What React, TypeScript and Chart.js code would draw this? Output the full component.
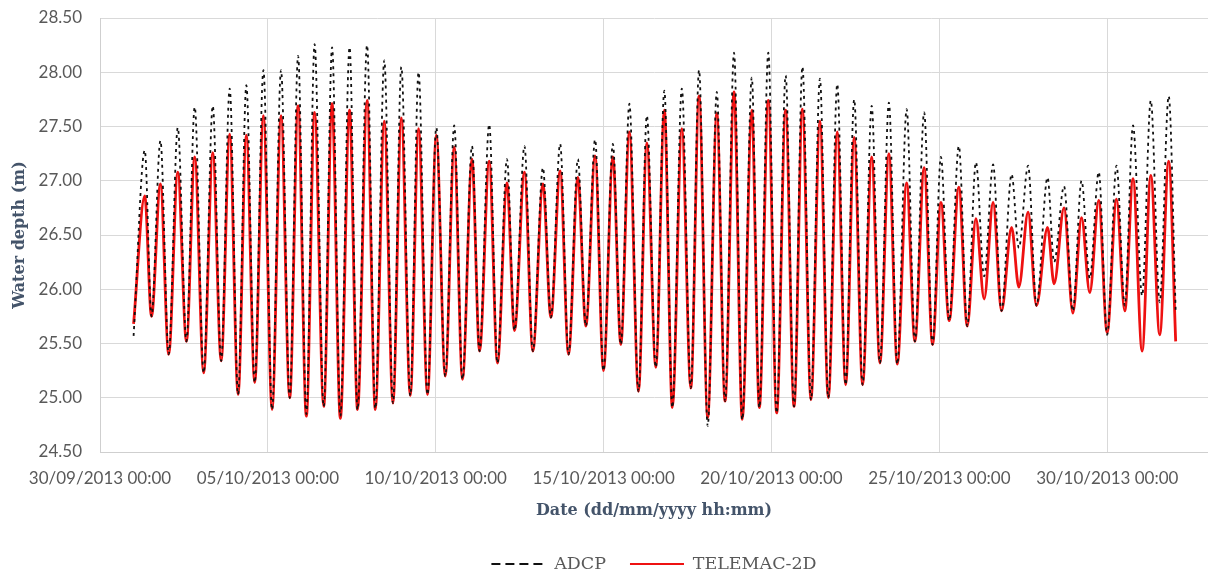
import React, { useEffect, useRef } from 'react';
import { Chart, registerables } from 'chart.js';

Chart.register(...registerables);

// Hours since 30/09/2013 00:00 for each turning point (start, high, low, high, low, ..., end)
const hours = [
  24.0, 32.0, 36.8, 43.2, 49.1, 55.6, 61.8, 67.7, 74.1, 80.6, 86.6, 92.7, 98.7, 104.6, 110.6,
  116.8, 123.0, 129.4, 135.6, 141.6, 147.5, 153.4, 159.9, 165.9, 171.8, 178.4, 184.1, 190.9, 196.8,
  203.2, 209.4, 215.4, 221.8, 227.7, 234.1, 240.4, 246.8, 253.2, 259.1, 265.9, 271.3, 278.2, 284.1,
  290.9, 296.3, 303.4, 309.4, 316.6, 322.3, 328.9, 334.9, 341.6, 347.3, 353.9, 359.9, 366.6, 372.3,
  378.4, 384.9, 390.9, 397.3, 403.4, 409.1, 415.9, 422.3, 428.2, 434.4, 440.9, 446.8, 453.2, 459.1,
  465.9, 471.3, 477.7, 483.7, 490.1, 496.1, 502.1, 508.2, 514.6, 520.6, 527.0, 533.0, 539.1, 545.1,
  551.6, 557.5, 563.9, 569.9, 576.6, 582.5, 589.1, 595.1, 601.1, 607.0, 613.9, 619.9, 626.1, 632.0,
  638.4, 644.4, 651.6, 656.8, 663.4, 669.4, 677.3, 682.0, 689.1, 695.4, 701.6, 707.5, 713.9, 719.9,
  726.6, 732.5, 738.4, 744.9, 751.1, 757.5, 763.9, 768.9,
];

const adcp = [
  25.57, 27.28, 25.75, 27.37, 25.40, 27.49, 25.52, 27.68, 25.23, 27.69, 25.34, 27.85, 25.03, 27.88, 25.14,
  28.02, 24.89, 28.02, 25.00, 28.15, 24.85, 28.26, 24.92, 28.23, 24.83, 28.23, 24.89, 28.25, 24.90,
  28.11, 24.95, 28.05, 25.02, 28.00, 25.03, 27.49, 25.20, 27.51, 25.17, 27.32, 25.43, 27.52, 25.32,
  27.20, 25.62, 27.32, 25.43, 27.12, 25.74, 27.34, 25.40, 27.20, 25.66, 27.38, 25.25, 27.34, 25.49,
  27.71, 25.06, 27.60, 25.28, 27.83, 24.91, 27.85, 25.09, 28.02, 24.74, 27.82, 24.97, 28.18, 24.80,
  27.95, 24.91, 28.18, 24.86, 27.97, 24.92, 28.05, 24.98, 27.94, 25.00, 27.89, 25.12, 27.75, 25.12,
  27.69, 25.32, 27.72, 25.31, 27.66, 25.52, 27.63, 25.49, 27.22, 25.71, 27.32, 25.66, 27.17, 26.12,
  27.15, 25.80, 27.06, 26.38, 27.14, 25.85, 27.03, 26.25, 26.95, 25.80, 27.00, 26.10, 27.08, 25.58,
  27.14, 25.85, 27.51, 25.94, 27.74, 25.88, 27.78, 25.80,
];

const telemac = [
  25.68, 26.86, 25.75, 26.97, 25.40, 27.08, 25.52, 27.22, 25.23, 27.26, 25.34, 27.43, 25.03, 27.42, 25.14,
  27.60, 24.89, 27.60, 25.00, 27.69, 24.83, 27.63, 24.92, 27.71, 24.81, 27.65, 24.89, 27.74, 24.89,
  27.55, 24.95, 27.58, 25.02, 27.48, 25.03, 27.42, 25.20, 27.31, 25.17, 27.20, 25.43, 27.18, 25.32,
  26.98, 25.62, 27.08, 25.43, 26.97, 25.74, 27.09, 25.40, 27.03, 25.66, 27.23, 25.25, 27.22, 25.49,
  27.45, 25.06, 27.35, 25.28, 27.65, 24.91, 27.48, 25.09, 27.78, 24.82, 27.62, 24.97, 27.82, 24.80,
  27.65, 24.91, 27.74, 24.86, 27.65, 24.92, 27.66, 24.98, 27.55, 25.00, 27.45, 25.12, 27.40, 25.12,
  27.22, 25.32, 27.25, 25.31, 26.98, 25.52, 27.12, 25.49, 26.80, 25.71, 26.94, 25.66, 26.65, 25.91,
  26.80, 25.80, 26.57, 26.02, 26.71, 25.85, 26.57, 26.05, 26.75, 25.78, 26.66, 25.97, 26.82, 25.60,
  26.83, 25.80, 27.02, 25.43, 27.05, 25.58, 27.18, 25.52,
];

const tickHours = [0, 120, 240, 360, 480, 600, 720];
const tickLabels = [
  '30/09/2013 00:00', '05/10/2013 00:00', '10/10/2013 00:00', '15/10/2013 00:00',
  '20/10/2013 00:00', '25/10/2013 00:00', '30/10/2013 00:00',
];
const yTicks = [24.5, 25.0, 25.5, 26.0, 26.5, 27.0, 27.5, 28.0, 28.5];

export default function App() {
  const ref = useRef<HTMLCanvasElement>(null);

  useEffect(() => {
    document.body.style.margin = '0';
    const canvas = ref.current;
    if (!canvas) return;
    const chart = new Chart(canvas, {
      type: 'line',
      data: {
        datasets: [
          {
            label: 'ADCP',
            data: hours.map((h, i) => ({ x: h, y: adcp[i] })),
            borderColor: '#111111',
            borderWidth: 1.8,
            borderDash: [3, 4],
            pointRadius: 0,
            cubicInterpolationMode: 'monotone',
            fill: false,
          },
          {
            label: 'TELEMAC-2D',
            data: hours.map((h, i) => ({ x: h, y: telemac[i] })),
            borderColor: '#ee1111',
            borderWidth: 2.8,
            pointRadius: 0,
            cubicInterpolationMode: 'monotone',
            fill: false,
          },
        ],
      },
      options: {
        animation: false,
        responsive: false,
        events: [],
        layout: { padding: { left: 0, right: 0, top: 18, bottom: 0 } },
        scales: {
          x: {
            type: 'linear',
            min: 0,
            max: 792,
            afterBuildTicks: (s: any) => {
              s.ticks = tickHours.map((v) => ({ value: v }));
            },
            afterFit: (s: any) => {
              s.height = 79.25;
              s.paddingTop = 0;
              s.paddingBottom = 0;
            },
            ticks: {
              autoSkip: false,
              maxRotation: 0,
              minRotation: 0,
              padding: 16,
              color: '#595959',
              font: { family: 'Lato', size: 17 },
              callback: (v: any) => {
                const i = tickHours.indexOf(Number(v));
                return i >= 0 ? tickLabels[i] : '';
              },
            },
            grid: { color: '#d9d9d9', drawTicks: false },
            border: { color: '#cfcfcf' },
            title: {
              display: true,
              text: 'Date (dd/mm/yyyy hh:mm)',
              color: '#44546a',
              font: { family: 'DejaVu Serif', size: 16, weight: 'bold' },
              padding: { top: 0, bottom: 11.25 },
            },
          },
          y: {
            min: 24.5,
            max: 28.5,
            afterBuildTicks: (s: any) => {
              s.ticks = yTicks.map((v) => ({ value: v }));
            },
            afterFit: (s: any) => {
              s.width = 100;
              s.paddingTop = 0;
              s.paddingBottom = 0;
            },
            ticks: {
              padding: 18,
              color: '#595959',
              font: { family: 'Lato', size: 17 },
              callback: (v: any) => Number(v).toFixed(2),
            },
            grid: { color: '#d9d9d9', drawTicks: false },
            border: { color: '#cfcfcf' },
            title: {
              display: true,
              text: 'Water depth (m)',
              color: '#44546a',
              font: { family: 'DejaVu Serif', size: 16, weight: 'bold' },
              padding: { top: 10, bottom: 0 },
            },
          },
        },
        plugins: {
          tooltip: { enabled: false },
          legend: {
            position: 'bottom',
            fullSize: false,
            maxHeight: 46.75,
            labels: {
              usePointStyle: true,
              pointStyle: 'line',
              pointStyleWidth: 54,
              padding: 24,
              color: '#595959',
              font: { family: 'DejaVu Serif', size: 17.5 },
              generateLabels: (c: any) => {
                const items = (Chart.defaults.plugins.legend.labels as any).generateLabels(c);
                return items.map((it: any) => ({
                  ...it,
                  pointStyle: 'line',
                  lineWidth: 2,
                  lineDash: it.datasetIndex === 0 ? [9, 5] : [],
                }));
              },
            },
          },
        },
      } as any,
    });
    return () => chart.destroy();
  }, []);

  return (
    <div style={{ width: 1208, height: 578 }}>
      <canvas ref={ref} width={1208} height={578} style={{ display: 'block' }} />
    </div>
  );
}
